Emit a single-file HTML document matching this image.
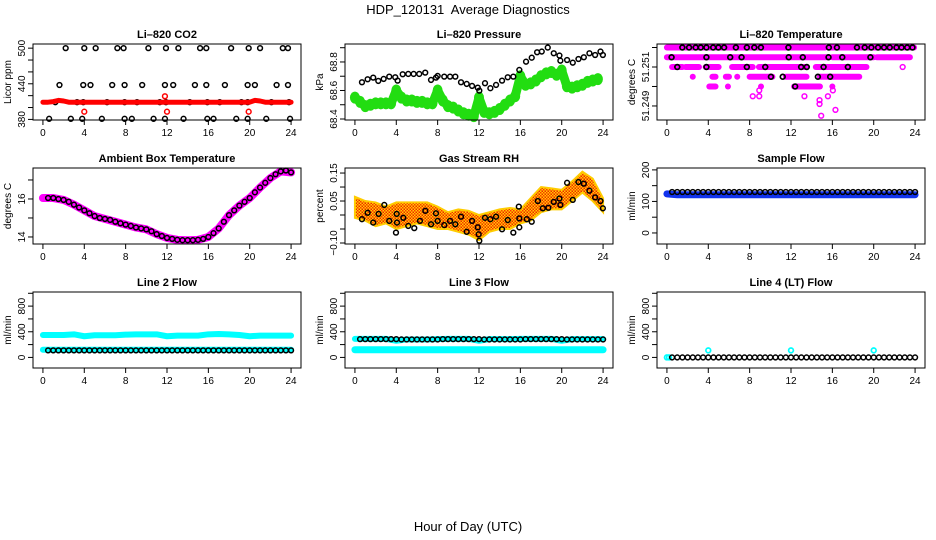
<!DOCTYPE html>
<html><head><meta charset="utf-8"><style>
html,body{margin:0;padding:0;background:#fff}
svg{display:block;font-family:"Liberation Sans",Arial,sans-serif}
</style></head><body>
<svg id="c" width="936" height="540" viewBox="0 0 936 540">
<text x="468" y="14" text-anchor="middle" font-size="13" style="white-space:pre">HDP_120131  Average Diagnostics</text>
<text x="468" y="531" text-anchor="middle" font-size="13">Hour of Day (UTC)</text>
</svg>
<script>
// ---- data ----
const xTicks=[0,4,8,12,16,20,24];
const co2BlackX=[2.2,4.0,5.1,7.2,7.8,10.2,11.9,13.1,15.2,15.8,18.2,19.9,21.0,23.2,23.7, 1.6,3.9,4.6,6.7,7.9,9.6,11.8,12.6,14.7,15.8,17.6,19.8,20.5,22.6,23.7, 1.2,3.3,3.9,6.2,7.9,9.1,11.3,11.9,14.2,15.9,17.1,19.2,19.8,22.1,23.8, 0.6,2.7,3.8,5.7,7.9,8.6,10.7,11.8,13.6,15.9,16.5,18.7,19.8,21.6,23.9];
const co2BlackY=[500,500,500,500,500,500,500,500,500,500,500,500,500,500,500, 438,438,438,438,438,438,438,438,438,438,438,438,438,438,438, 409,409,409,409,409,409,409,409,409,409,409,409,409,409,409, 381,381,381,381,381,381,381,381,381,381,381,381,381,381,381];
const co2Red=[409,409,410,412,411,409,409,409,409,409,409,409,409,409,409,409,409,409,409,409,409,409,409,409,409,409,409,409,409,409,409,409,409,409,409,409,409,409,409,409,409,412,411,409,409,409,409,409,409];
const co2RedOutX=[4.0,11.8,12.0,19.9];
const co2RedOutY=[393,419,393,393];
const presX=[0.68,1.23,1.77,2.26,2.78,3.32,3.9,4.13,4.62,5.16,5.68,6.22,6.8,7.36,7.84,8.0,8.64,9.2,9.71,10.26,10.81,11.33,11.88,12.03,12.58,13.1,13.65,14.23,14.78,15.32,15.9,16.55,17.1,17.62,18.07,18.65,19.23,19.78,19.87,20.52,21.07,21.62,22.14,22.68,23.23,23.75,23.98];
const presY=[68.658,68.679,68.690,68.667,68.681,68.697,68.693,68.669,68.714,68.716,68.716,68.716,68.725,68.674,68.690,68.702,68.697,68.697,68.697,68.658,68.646,68.632,68.620,68.599,68.651,68.616,68.639,68.669,68.693,68.697,68.744,68.802,68.830,68.868,68.873,68.901,68.861,68.845,68.809,68.814,68.795,68.821,68.833,68.861,68.849,68.873,68.849];
const presGreen=[68.55,68.52,68.49,68.50,68.51,68.51,68.51,68.51,68.60,68.55,68.53,68.53,68.52,68.52,68.51,68.51,68.60,68.53,68.49,68.48,68.46,68.44,68.43,68.42,68.55,68.45,68.44,68.45,68.47,68.50,68.53,68.56,68.70,68.64,68.65,68.67,68.70,68.72,68.73,68.71,68.74,68.63,68.62,68.63,68.64,68.66,68.67,68.68];
const tSegStart=[0,15.6,0,16.0,20.3,0.5,1.8,3.75,6.3,8.9,14.4,2.5,4.4,5.7,6.8,8.0,11.5,14.8,4.1,5.9,9.1,12.3,16.0];
const tSegEnd=[15.3,23.9,15.5,20.0,23.5,1.5,3.1,5.0,8.3,13.5,19.3,2.5,4.7,6.0,6.8,10.2,13.5,18.6,4.7,5.9,9.1,14.8,16.0];
const tSegLevel=[51.252,51.252,51.2515,51.2515,51.2515,51.251,51.251,51.251,51.251,51.251,51.251,51.2505,51.2505,51.2505,51.2505,51.2505,51.2505,51.2505,51.250,51.250,51.250,51.250,51.250];
const tPinkX=[22.8,8.3,8.93,13.3,14.76,15.57,14.76,16.3,14.92,8.93,16.05];
const tPinkY=[51.251,51.2495,51.2495,51.2495,51.2493,51.2495,51.2491,51.2488,51.2485,51.2498,51.2498];
const tBlackX=[1.49,2.14,2.78,3.27,3.82,4.47,4.98,5.53,6.67,7.73,8.45,9.09,11.75,15.66,16.44,18.38,19.13,19.77,20.42,21.0,21.55,22.2,22.69,23.24,23.75, 0.45,3.82,6.12,7.22,11.78,13.14,15.63,16.96,19.68, 1.0,3.82,7.73,9.51,12.98,13.53,15.15,17.5, 10.06,11.2,14.6,15.79, 12.4];
const tBlackY=[51.252,51.252,51.252,51.252,51.252,51.252,51.252,51.252,51.252,51.252,51.252,51.252,51.252,51.252,51.252,51.252,51.252,51.252,51.252,51.252,51.252,51.252,51.252,51.252,51.252, 51.2515,51.2515,51.2515,51.2515,51.2515,51.2515,51.2515,51.2515,51.2515, 51.251,51.251,51.251,51.251,51.251,51.251,51.251,51.251, 51.2505,51.2505,51.2505,51.2505, 51.250];
const hourly=[0,1,2,3,4,5,6,7,8,9,10,11,12,13,14,15,16,17,18,19,20,21,22,23,24];
const ambBand=[16.05,16.05,15.95,15.7,15.4,15.1,14.95,14.8,14.65,14.5,14.4,14.15,13.95,13.85,13.83,13.85,14.0,14.45,15.15,15.65,16.05,16.6,17.1,17.45,17.4];
const ambBlack=[16.05,16.05,16.0,15.95,15.85,15.7,15.55,15.4,15.25,15.1,15.0,14.95,14.9,14.8,14.72,14.65,14.58,14.5,14.45,14.4,14.3,14.15,14.05,13.95,13.9,13.85,13.83,13.83,13.83,13.85,13.9,14.0,14.2,14.45,14.8,15.15,15.4,15.65,15.85,16.05,16.35,16.6,16.85,17.1,17.3,17.45,17.5,17.4];
const rhUpper=[0.065,0.05,0.045,0.03,0.045,0.045,0.045,0.045,0.03,0.01,0.02,0.015,0.0,0.01,0.02,0.025,0.02,0.06,0.1,0.095,0.09,0.12,0.155,0.13,0.06];
const rhLower=[-0.01,-0.02,-0.04,-0.03,-0.05,-0.04,-0.03,-0.04,-0.05,-0.05,-0.06,-0.07,-0.09,-0.06,-0.05,-0.05,-0.03,-0.02,0.01,0.02,0.02,0.05,0.08,0.05,0.01];
const rhX=[0.68,1.23,1.77,2.29,3.32,2.84,4.04,4.07,3.97,4.68,5.16,5.74,6.29,6.81,7.36,7.84,8.0,8.64,9.2,9.71,10.26,10.81,11.33,11.88,11.97,12.03,12.58,13.1,13.65,14.23,14.78,15.32,15.85,15.9,15.9,16.62,17.1,17.69,18.17,18.71,19.23,19.78,19.87,20.52,21.07,21.62,22.14,22.68,23.23,23.75,23.98];
const rhY=[-0.015,0.008,-0.027,0.004,-0.021,0.036,0.004,-0.027,-0.063,-0.010,-0.039,-0.047,-0.021,0.015,-0.033,0.006,-0.021,-0.036,-0.021,-0.033,-0.006,-0.060,-0.021,-0.044,-0.069,-0.092,-0.010,-0.015,-0.006,-0.051,-0.018,-0.063,0.030,-0.012,-0.044,-0.015,-0.024,0.050,0.024,0.026,0.047,0.059,0.036,0.115,0.054,0.118,0.112,0.087,0.063,0.050,0.024];
const sfBlue=[124,121,121,121,121,121,121,121,121,121,121,121,121,121,121,121,121,121,121,121,121,121,121,121,121];
const sfBlack=[130,130,130,130,130,130,130,130,130,130,130,130,130,130,130,130,130,130,130,130,130,130,130,130,130,130,130,130,130,130,130,130,130,130,130,130,130,130,130,130,130,130,130,130,130,130,130,130];
const l2CyanHi=[350,350,350,360,330,345,345,345,355,360,360,360,330,340,340,340,360,365,360,350,330,340,340,340,340];
const l2CyanLo=[120,120,120,120,120,120,120,120,120,120,120,120,120,120,120,120,120,120,120,120,120,120,120,120,120];
const l2Black=[110,110,110,110,110,110,110,110,110,110,110,110,110,110,110,110,110,110,110,110,110,110,110,110,110,110,110,110,110,110,110,110,110,110,110,110,110,110,110,110,110,110,110,110,110,110,110,110];
const l3CyanHi=[290,290,290,290,260,280,280,280,285,290,290,290,260,285,285,285,290,290,290,290,260,285,285,285,285];
const l3CyanLo=[120,120,120,120,120,120,120,120,120,120,120,120,120,120,120,120,120,120,120,120,120,120,120,120,120];
const l3Black=[285,285,285,285,285,285,285,285,280,280,280,280,280,280,280,280,285,285,285,285,285,285,285,285,280,280,280,280,280,280,280,280,285,285,285,285,285,285,285,285,280,280,280,280,280,280,280,280];
const l4Black=[0,0,0,0,0,0,0,0,0,0,0,0,0,0,0,0,0,0,0,0,0,0,0,0,0,0,0,0,0,0,0,0,0,0,0,0,0,0,0,0,0,0,0,0,0,0,0,0];
const l4CyanX=[0,0.2,4.0,12.0,20.0];
const l4CyanY=[0,0,110,110,110];

// ---- drawing ----
const svg=document.getElementById('c');
const NS='http://www.w3.org/2000/svg';
function el(tag,attrs,parent){const e=document.createElementNS(NS,tag);for(const k in attrs)e.setAttribute(k,attrs[k]);(parent||svg).appendChild(e);return e;}
const halfHours=[];for(let i=1;i<=48;i++)halfHours.push(i*0.5);
const halfHours0=[];for(let i=0;i<=48;i++)halfHours0.push(i*0.5);

function panel(col,row,ylim,title,ylab,yt,ylabels,name){
  const x0=33+col*312,y0=44+row*124,w=268,h=76;
  const g=el('g',{});
  
  
  const sx=v=>x0+(v+0.96)/25.92*w;
  const sy=v=>y0+h*(ylim[1]-v)/(ylim[1]-ylim[0]);
  const t=el('text',{x:x0+w/2,y:y0-6,'text-anchor':'middle','font-size':11,'font-weight':'bold'},g);t.textContent=title;
  
  
  const xa=el('g',{},g);
  
  
  el('line',{x1:sx(0),x2:sx(24),y1:y0+h,y2:y0+h,stroke:'#000'},xa);
  xTicks.forEach(v=>{el('line',{x1:sx(v),x2:sx(v),y1:y0+h,y2:y0+h+5,stroke:'#000'},xa);
    const tt=el('text',{x:sx(v),y:y0+h+16,'text-anchor':'middle','font-size':10},xa);tt.textContent=v;});
  const ya=el('g',{},g);
  
  
  el('line',{x1:x0,x2:x0,y1:sy(yt[0]),y2:sy(yt[yt.length-1]),stroke:'#000'},ya);
  yt.forEach((v,i)=>{el('line',{x1:x0-5,x2:x0,y1:sy(v),y2:sy(v),stroke:'#000'},ya);
    if(ylabels[i]){const tt=el('text',{x:x0-8,y:sy(v),'text-anchor':'middle','font-size':10,transform:`rotate(-90 ${x0-8} ${sy(v)})`},ya);tt.textContent=ylabels[i];}});
  const yl=el('text',{x:x0-22,y:y0+h/2,'text-anchor':'middle','font-size':10,transform:`rotate(-90 ${x0-22} ${y0+h/2})`},g);yl.textContent=ylab;
  
  
  const data=el('g',{},g);
  
  
  const frame=()=>{const f=el('rect',{x:x0,y:y0,width:w,height:h,fill:'none',stroke:'#000'},g);
    
    };
  return {sx,sy,g:data,frame};
}
function pts(p,xs,ys,color,r,sw,nm){xs.forEach((x,i)=>{const c=el('circle',{cx:p.sx(x),cy:p.sy(ys[i]),r:r||2.4,fill:'none',stroke:color,'stroke-width':sw||1.5},p.g);
  
  });}
function band(p,xs,ys,color,width,nm){const l=el('polyline',{points:xs.map((x,i)=>p.sx(x)+','+p.sy(ys[i])).join(' '),fill:'none',stroke:color,'stroke-width':width,'stroke-linejoin':'round','stroke-linecap':'round'},p.g);
  
  }

// Li-820 CO2
let p=panel(0,0,[379,507],'Li\u2013820 CO2','Licor ppm',[380,400,420,440,460,480,500],['380','','','440','','','500'],'co2');
pts(p,co2BlackX,co2BlackY,'#000',2.4,1.5,'co2-point');
band(p,halfHours0,co2Red,'#f00',5,'co2-red-band');
pts(p,co2RedOutX,co2RedOutY,'#f00',2.4,1.5,'co2-red-outlier');
p.frame();

// Pressure
p=panel(1,0,[68.393,68.926],'Li\u2013820 Pressure','kPa',[68.4,68.5,68.6,68.7,68.8,68.9],['68.4','','68.6','','68.8',''],'pressure');
presGreen.forEach((v,i)=>{const e=el('ellipse',{cx:p.sx(halfHours0[i]),cy:p.sy(v),rx:5,ry:6,fill:'#22dd11'},p.g);
  
  });
band(p,halfHours0.slice(0,presGreen.length),presGreen,'#22dd11',9,'pressure-green-band');
pts(p,presX,presY,'#000',2.4,1.5,'pressure-point');
p.frame();

// Temperature
p=panel(2,0,[51.24828,51.25218],'Li\u2013820 Temperature','degrees C',[51.249,51.250,51.251,51.252],['51.249','','51.251',''],'temperature');
tSegStart.forEach((s,i)=>{const e=el('line',{x1:p.sx(s),x2:p.sx(tSegEnd[i]),y1:p.sy(tSegLevel[i]),y2:p.sy(tSegLevel[i]),stroke:'#f0f',"stroke-width":6,'stroke-linecap':'round'},p.g);
  
  });
pts(p,tPinkX,tPinkY,'#f0f',2.4,1.5,'temperature-pink-point');
pts(p,tBlackX,tBlackY,'#000',2.4,1.7,'temperature-black-point');
p.frame();

// Ambient
p=panel(0,1,[13.63,17.63],'Ambient Box Temperature','degrees C',[14,15,16,17],['14','','16',''],'ambient');
band(p,hourly,ambBand,'#f0f',8,'ambient-band');
pts(p,halfHours,ambBlack,'#000',2.4,1.5,'ambient-point');
p.frame();

// Gas RH
p=panel(1,1,[-0.1036,0.168],'Gas Stream RH','percent',[-0.10,-0.05,0,0.05,0.10,0.15],['\u22120.10','','','0.05','','0.15'],'rh');
const defs=el('defs',{});
const pat=el('pattern',{id:'chk',width:3,height:3,patternUnits:'userSpaceOnUse'},defs);
el('rect',{width:3,height:3,fill:'#ffd000'},pat);
el('rect',{width:1.5,height:1.5,fill:'#ff3300'},pat);
el('rect',{x:1.5,y:1.5,width:1.5,height:1.5,fill:'#ee2200'},pat);
const poly=hourly.map((x,i)=>p.sx(x)+','+p.sy(rhUpper[i])).concat(hourly.slice().reverse().map((x,i)=>p.sx(x)+','+p.sy(rhLower[hourly.length-1-i])));
const rb=el('polygon',{points:poly.join(' '),fill:'url(#chk)',stroke:'#ffcc00','stroke-width':2},p.g);


pts(p,rhX,rhY,'#000',2.4,1.5,'rh-point');
p.frame();

// Sample flow
p=panel(2,1,[-35,206],'Sample Flow','ml/min',[0,50,100,150,200],['0','','100','','200'],'sample-flow');
band(p,hourly,sfBlue,'#1133ee',7,'sample-flow-blue-band');
pts(p,halfHours,sfBlack,'#000',2.4,1.5,'sample-flow-point');
p.frame();

// Line 2
p=panel(0,2,[-165,1020],'Line 2 Flow','ml/min',[0,200,400,600,800,1000],['0','','400','','800',''],'line2');
band(p,hourly,l2CyanHi,'#00ffff',6,'line2-cyan-high');
band(p,hourly,l2CyanLo,'#00ffff',6,'line2-cyan-low');
pts(p,halfHours,l2Black,'#000',2.4,1.5,'line2-point');
p.frame();

// Line 3
p=panel(1,2,[-165,1020],'Line 3 Flow','ml/min',[0,200,400,600,800,1000],['0','','400','','800',''],'line3');
band(p,hourly,l3CyanLo,'#00ffff',7,'line3-cyan-low');
band(p,hourly,l3CyanHi,'#00ffff',6,'line3-cyan-high');
pts(p,halfHours,l3Black,'#000',2.4,1.5,'line3-point');
p.frame();

// Line 4
p=panel(2,2,[-165,1020],'Line 4 (LT) Flow','ml/min',[0,200,400,600,800,1000],['0','','400','','800',''],'line4');
pts(p,l4CyanX,l4CyanY,'#00ffff',2.4,1.7,'line4-cyan-point');
pts(p,halfHours,l4Black,'#000',2.4,1.5,'line4-point');
p.frame();
</script>
</body></html>
